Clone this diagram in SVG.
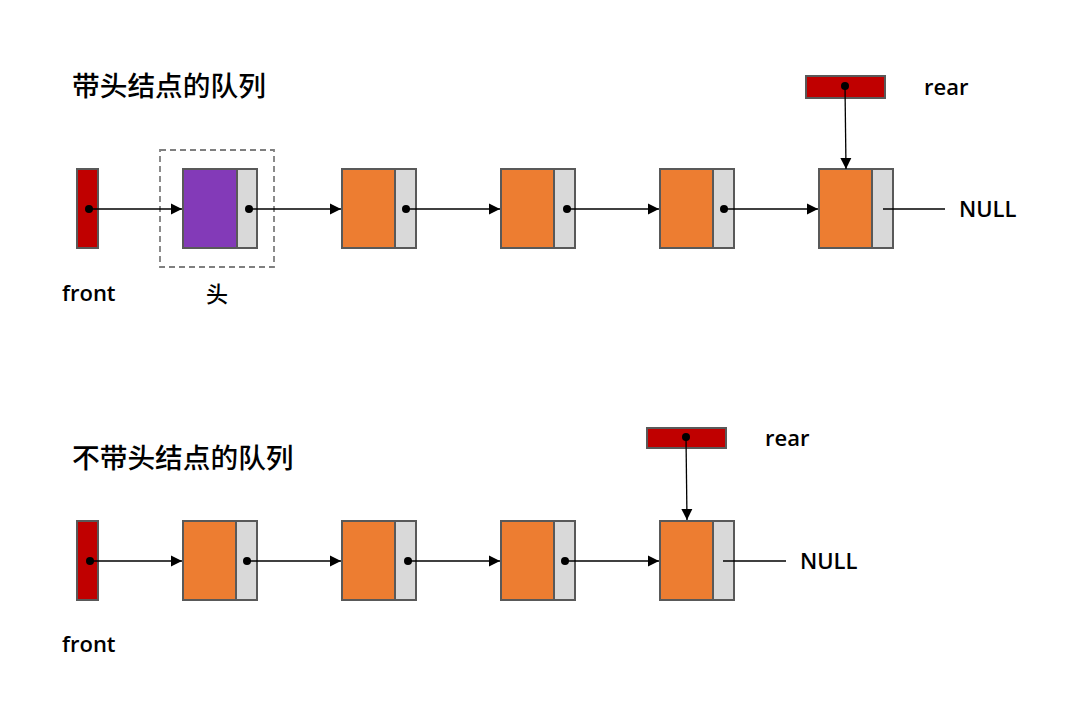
<svg xmlns="http://www.w3.org/2000/svg" width="1066" height="707" viewBox="0 0 1066 707">
<defs>
<marker id="arr" markerWidth="12" markerHeight="12" refX="11" refY="6" orient="auto" markerUnits="userSpaceOnUse">
<path d="M0,0.5 L11,6 L0,11.5 Z" fill="#000"/>
</marker>
<style>
.ptr{fill:#C00000;stroke:#595959;stroke-width:2}
.data{fill:#ED7D31;stroke:#595959;stroke-width:2}
.head{fill:#833AB8;stroke:#595959;stroke-width:2}
.next{fill:#D9D9D9;stroke:#595959;stroke-width:2}
.dot{fill:#000}
.ln{stroke:#000;stroke-width:1.3;fill:none}
.la{stroke:#000;stroke-width:1.3;fill:none;marker-end:url(#arr)}
.t{font-family:"Open Sans","Noto Sans","Noto Sans CJK SC",sans-serif;font-size:22px;font-weight:600;fill:#000}
.title{font-family:"Noto Sans CJK SC",sans-serif;font-size:27.7px;font-weight:500;fill:#000}
</style>
</defs>
<rect width="1066" height="707" fill="#fff"/>

<text class="title" x="72" y="96">带头结点的队列</text>
<text class="title" x="72" y="468">不带头结点的队列</text>

<!-- top row -->
<g id="front1"><rect class="ptr" x="77" y="169" width="21" height="79"/><text class="t" x="62" y="301">front</text></g>
<g id="headbox"><rect x="160" y="150" width="114" height="117" fill="none" stroke="#7F7F7F" stroke-width="1.8" stroke-dasharray="6,4"/><text class="title" x="206" y="302" style="font-size:22px">头</text></g>
<g id="h0"><rect class="head" x="183" y="169" width="54" height="79"/><rect class="next" x="237" y="169" width="20" height="79"/></g>
<g id="a1"><rect class="data" x="342" y="169" width="53" height="79"/><rect class="next" x="395" y="169" width="21" height="79"/></g>
<g id="a2"><rect class="data" x="501" y="169" width="53" height="79"/><rect class="next" x="554" y="169" width="21" height="79"/></g>
<g id="a3"><rect class="data" x="660" y="169" width="53" height="79"/><rect class="next" x="713" y="169" width="21" height="79"/></g>
<g id="a4"><rect class="data" x="819" y="169" width="53" height="79"/><rect class="next" x="872" y="169" width="21" height="79"/><text class="t" x="959" y="217">NULL</text></g>
<g id="rear1"><rect class="ptr" x="806" y="76" width="79" height="22"/><text class="t" x="924" y="95">rear</text></g>

<!-- bottom row -->
<g id="front2"><rect class="ptr" x="77" y="521" width="21" height="79"/><text class="t" x="62" y="652">front</text></g>
<g id="b1"><rect class="data" x="183" y="521" width="53" height="79"/><rect class="next" x="236" y="521" width="21" height="79"/></g>
<g id="b2"><rect class="data" x="342" y="521" width="53" height="79"/><rect class="next" x="395" y="521" width="21" height="79"/></g>
<g id="b3"><rect class="data" x="501" y="521" width="53" height="79"/><rect class="next" x="554" y="521" width="21" height="79"/></g>
<g id="b4"><rect class="data" x="660" y="521" width="53" height="79"/><rect class="next" x="713" y="521" width="21" height="79"/><text class="t" x="800" y="569">NULL</text></g>
<g id="rear2"><rect class="ptr" x="647" y="428" width="79" height="20"/><text class="t" x="765" y="446">rear</text></g>

<g id="connectors">
<path class="la" d="M89,209 H182"/>
<path class="la" d="M249,209 H341"/>
<path class="la" d="M406,209 H500"/>
<path class="la" d="M567,209 H659"/>
<path class="la" d="M724,209 H818"/>
<path class="ln" d="M883,209 H945" stroke-width="1.6"/>
<path class="la" d="M845,86 L846,169"/>

<path class="la" d="M90,561 H182"/>
<path class="la" d="M247,561 H341"/>
<path class="la" d="M408,561 H500"/>
<path class="la" d="M565,561 H659"/>
<path class="ln" d="M723,561 H786" stroke-width="1.6"/>
<path class="la" d="M686,437 L687,520"/>

<circle class="dot" cx="89" cy="209" r="4"/>
<circle class="dot" cx="249" cy="209" r="4"/>
<circle class="dot" cx="406" cy="209" r="4"/>
<circle class="dot" cx="567" cy="209" r="4"/>
<circle class="dot" cx="724" cy="209" r="4"/>
<circle class="dot" cx="845" cy="86" r="4"/>
<circle class="dot" cx="90" cy="561" r="4"/>
<circle class="dot" cx="247" cy="561" r="4"/>
<circle class="dot" cx="408" cy="561" r="4"/>
<circle class="dot" cx="565" cy="561" r="4"/>
<circle class="dot" cx="686" cy="437" r="4"/>
</g>
</svg>
